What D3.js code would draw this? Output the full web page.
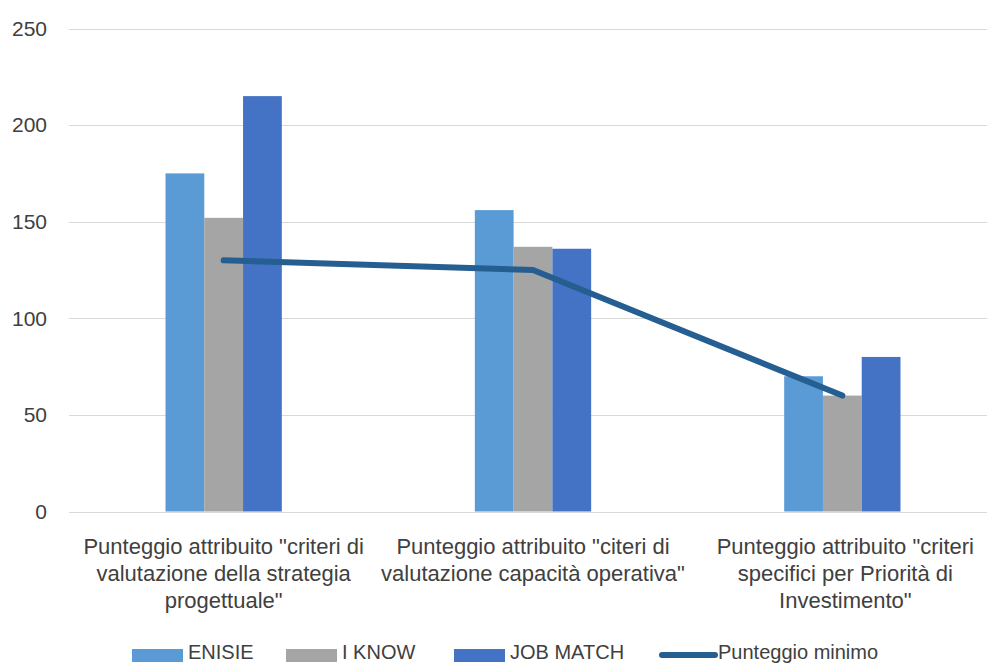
<!DOCTYPE html>
<html>
<head>
<meta charset="utf-8">
<script src="https://cdn.jsdelivr.net/npm/d3@7"></script>
<style>
  html, body { margin: 0; padding: 0; background: #fff; }
  svg { display: block; }
  text { font-family: "Liberation Sans", Arial, sans-serif; fill: #404040; }
</style>
</head>
<body>
<svg id="chart" width="987" height="664"></svg>
<script>
// Categories (each label split into its display lines)
const categories = [
  ["Punteggio attribuito \"criteri di", "valutazione della strategia", "progettuale\""],
  ["Punteggio attribuito \"citeri di", "valutazione capacità operativa\""],
  ["Punteggio attribuito \"criteri", "specifici per Priorità di", "Investimento\""]
];
const seriesNames = ["ENISIE", "I KNOW", "JOB MATCH"];
const enisie   = [175, 156, 70];
const iknow    = [152, 137, 60];
const jobMatch = [215, 136, 80];
const minimumName = "Punteggio minimo";
const minimum  = [130, 125, 60];
const yTicks   = [0, 50, 100, 150, 200, 250];

const colors = { "ENISIE": "#5B9BD5", "I KNOW": "#A5A5A5", "JOB MATCH": "#4472C4" };
const lineColor = "#255E91";

const seriesValues = [enisie, iknow, jobMatch];
const catKeys = categories.map((c, i) => "c" + i);

const svg = d3.select("#chart");
const plotLeft = 69, plotRight = 997, plotTop = 28.5, plotBottom = 511.5;

const y = d3.scaleLinear().domain([0, 250]).range([plotBottom, plotTop]);
const x0 = d3.scaleBand().domain(catKeys).range([plotLeft, plotRight]).paddingInner(0).paddingOuter(0);
const groupW = x0.bandwidth() * 0.376;
const x1 = d3.scaleBand().domain(seriesNames)
  .range([(x0.bandwidth() - groupW) / 2, (x0.bandwidth() + groupW) / 2]);

// Horizontal gridlines
svg.append("g").selectAll("line").data(yTicks).join("line")
  .attr("x1", plotLeft).attr("x2", 987)
  .attr("y1", d => Math.round(y(d)) + 0.5).attr("y2", d => Math.round(y(d)) + 0.5)
  .attr("stroke", "#D9D9D9").attr("stroke-width", 1);

// Y axis labels
const yAxis = d3.axisLeft(y).tickValues(yTicks).tickSize(0).tickPadding(0);
const gy = svg.append("g").attr("transform", `translate(47,0)`).call(yAxis);
gy.select(".domain").remove();
gy.selectAll("text").style("font-size", "21px").attr("fill", "#404040")
  .style("font-family", "\"Liberation Sans\", Arial, sans-serif");

// Bars
const groups = svg.append("g").selectAll("g").data(catKeys).join("g")
  .attr("transform", d => `translate(${x0(d)},0)`);
groups.selectAll("rect")
  .data((d, i) => seriesNames.map((s, j) => ({ s, v: seriesValues[j][i] })))
  .join("rect")
  .attr("x", d => x1(d.s))
  .attr("width", x1.bandwidth())
  .attr("y", d => y(d.v))
  .attr("height", d => y(0) - y(d.v))
  .attr("fill", d => colors[d.s]);

// Minimum score line
const line = d3.line()
  .x((d, i) => x0(catKeys[i]) + x0.bandwidth() / 2)
  .y(d => y(d));
svg.append("path").datum(minimum)
  .attr("d", line)
  .attr("fill", "none")
  .attr("stroke", lineColor)
  .attr("stroke-width", 6)
  .attr("stroke-linecap", "round")
  .attr("stroke-linejoin", "round");

// Category labels
const labelG = svg.append("g");
categories.forEach((lines, i) => {
  const cx = x0(catKeys[i]) + x0.bandwidth() / 2 + (i === 2 ? 3 : 0);
  const t = labelG.append("text")
    .attr("x", cx)
    .attr("text-anchor", "middle")
    .style("font-size", "22px");
  lines.forEach((ln, k) => {
    t.append("tspan").attr("x", cx).attr("y", 554 + k * 27).text(ln);
  });
});

// Legend
const legendItems = [
  { name: seriesNames[0], type: "rect", x: 132 },
  { name: seriesNames[1], type: "rect", x: 286 },
  { name: seriesNames[2], type: "rect", x: 454 },
  { name: minimumName, type: "line", x: 662 }
];
const lg = svg.append("g");
legendItems.forEach(it => {
  if (it.type === "rect") {
    lg.append("rect").attr("x", it.x).attr("y", 649).attr("width", 51).attr("height", 13)
      .attr("fill", colors[it.name]);
  } else {
    lg.append("line").attr("x1", it.x).attr("x2", it.x + 53).attr("y1", 655).attr("y2", 655)
      .attr("stroke", lineColor).attr("stroke-width", 6).attr("stroke-linecap", "round");
  }
  lg.append("text").attr("x", it.x + 56).attr("y", 659).style("font-size", "20px").text(it.name);
});
</script>
</body>
</html>
